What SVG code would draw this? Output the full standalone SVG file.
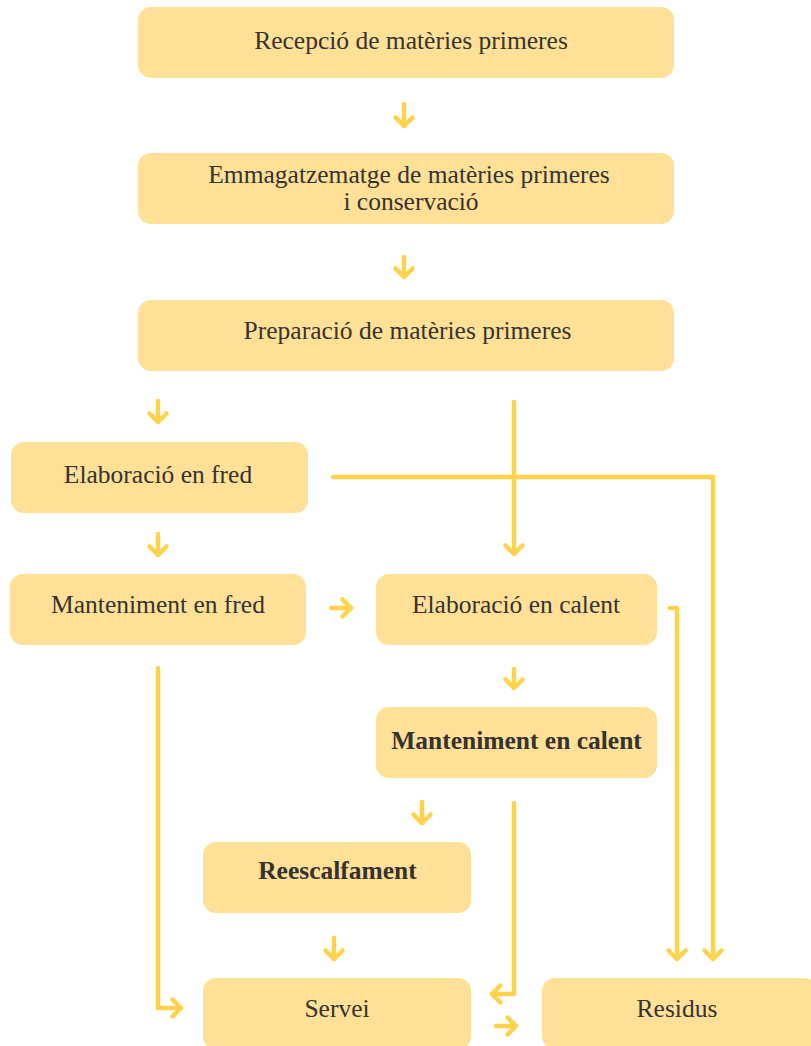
<svg xmlns="http://www.w3.org/2000/svg" width="811" height="1046" viewBox="0 0 811 1046">
<style>
.box{fill:#FFE097}
.t{font-family:"Liberation Serif","Times New Roman",serif;font-size:25.5px;fill:#353330;text-anchor:middle}
.b{font-weight:bold}
.c{fill:none;stroke:#FFD24C;stroke-width:4.5;stroke-linecap:round;stroke-linejoin:round}
</style>
<defs>
<marker id="ah" markerUnits="userSpaceOnUse" markerWidth="24" markerHeight="24" viewBox="-12 -12 24 24" refX="0" refY="0" orient="auto" overflow="visible">
<path d="M-8.5,-8.5 L0,0 L-8.5,8.5" fill="none" stroke="#FFD24C" stroke-width="4.5" stroke-linecap="round" stroke-linejoin="round"/>
</marker>
</defs>
<rect width="811" height="1046" fill="#FFFFFF"/>
<g id="connectors">
<path class="c" d="M404,104 V126" marker-end="url(#ah)"/>
<path class="c" d="M404,257 V277" marker-end="url(#ah)"/>
<path class="c" d="M158,401 V422" marker-end="url(#ah)"/>
<path class="c" d="M158,534 V555" marker-end="url(#ah)"/>
<path class="c" d="M331,608 H351" marker-end="url(#ah)"/>
<path class="c" d="M514,669 V688" marker-end="url(#ah)"/>
<path class="c" d="M422,802 V823" marker-end="url(#ah)"/>
<path class="c" d="M334,938 V959" marker-end="url(#ah)"/>
<path class="c" d="M496,1026 H516" marker-end="url(#ah)"/>
<path class="c" d="M514,402 V554" marker-end="url(#ah)"/>
<path class="c" d="M333,477 H713 V959" marker-end="url(#ah)"/>
<path class="c" d="M670,608 H677 V959" marker-end="url(#ah)"/>
<path class="c" d="M158,668 V1008 H181" marker-end="url(#ah)"/>
<path class="c" d="M514,803 V994 H492" marker-end="url(#ah)"/>
</g>
<g id="n1"><rect class="box" x="138" y="7" width="536" height="71" rx="13"/><text class="t" x="411" y="49">Recepció de matèries primeres</text></g>
<g id="n2"><rect class="box" x="138" y="153" width="536" height="71" rx="13"/><text class="t" x="409" y="183">Emmagatzematge de matèries primeres</text><text class="t" x="411" y="210">i conservació</text></g>
<g id="n3"><rect class="box" x="138" y="300" width="536" height="71" rx="13"/><text class="t" x="407.5" y="339">Preparació de matèries primeres</text></g>
<g id="n4"><rect class="box" x="11" y="442" width="297" height="71" rx="13"/><text class="t" x="158" y="483">Elaboració en fred</text></g>
<g id="n5"><rect class="box" x="10" y="574" width="296" height="71" rx="13"/><text class="t" x="158" y="613">Manteniment en fred</text></g>
<g id="n6"><rect class="box" x="376" y="574" width="281" height="71" rx="13"/><text class="t" x="516" y="613">Elaboració en calent</text></g>
<g id="n7"><rect class="box" x="376" y="707" width="281" height="71" rx="13"/><text class="t b" x="516.5" y="749">Manteniment en calent</text></g>
<g id="n8"><rect class="box" x="203" y="842" width="268" height="71" rx="13"/><text class="t b" x="337.5" y="879">Reescalfament</text></g>
<g id="n9"><rect class="box" x="203" y="978" width="268" height="71" rx="13"/><text class="t" x="337" y="1017">Servei</text></g>
<g id="n10"><rect class="box" x="542" y="978" width="275" height="71" rx="13"/><text class="t" x="677" y="1017">Residus</text></g>
</svg>
